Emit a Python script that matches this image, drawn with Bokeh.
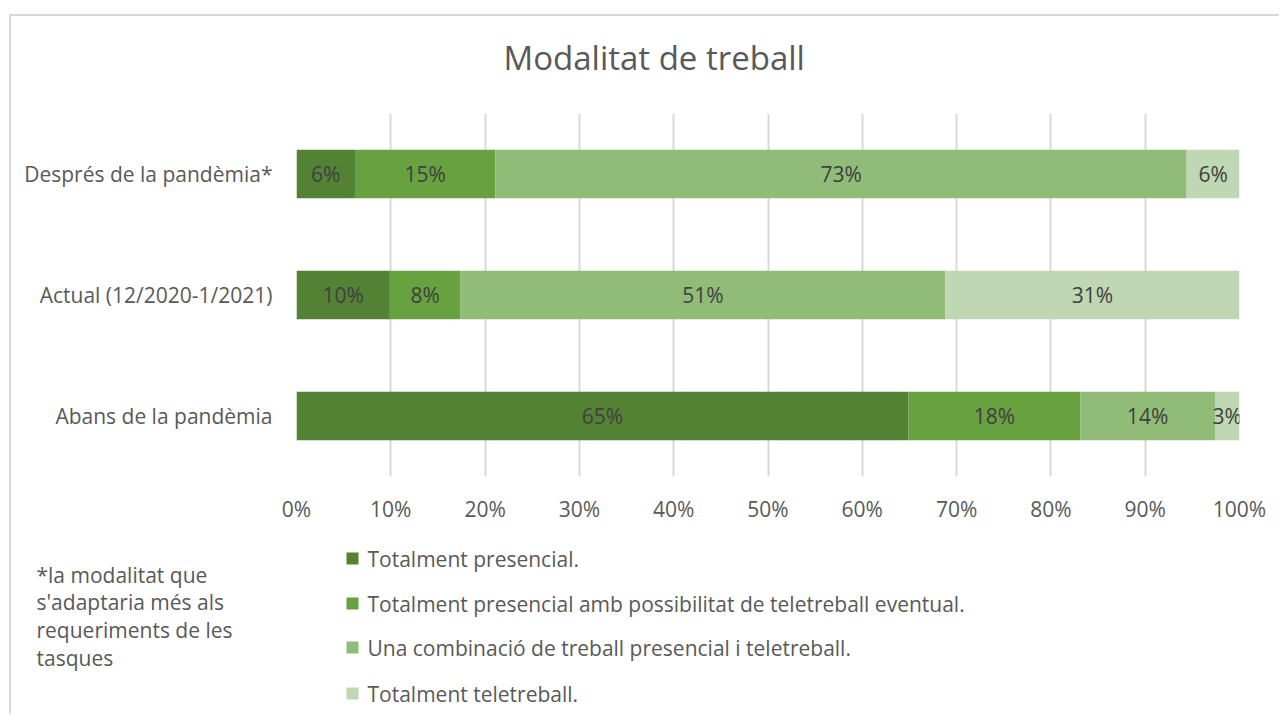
from bokeh.plotting import figure
from bokeh.models import Range1d, FactorRange, FixedTicker, ColumnDataSource, LinearAxis
from bokeh.core.properties import value
from bokeh.embed import file_html
from bokeh.resources import INLINE

# ---------------- data ----------------
categories = ["Abans de la pandèmia", "Actual (12/2020-1/2021)", "Després de la pandèmia*"]
series_names = [
    "Totalment presencial.",
    "Totalment presencial amb possibilitat de teletreball eventual.",
    "Una combinació de treball presencial i teletreball.",
    "Totalment teletreball.",
]
presencial = [64.9, 9.9, 6.2]
presencial_eventual = [18.2, 7.5, 14.9]
combinacio = [14.3, 51.4, 73.3]
teletreball = [2.6, 31.2, 5.6]
tick_values = [0, 10, 20, 30, 40, 50, 60, 70, 80, 90, 100]
tick_labels = ["0%", "10%", "20%", "30%", "40%", "50%", "60%", "70%", "80%", "90%", "100%"]
title_text = "Modalitat de treball"
footnote_lines = ["*la modalitat que", "s'adaptaria més als", "requeriments de les", "tasques"]

# ---------------- style ----------------
colors = ["#548235", "#68A240", "#91BC78", "#BFD7B3"]
FONT = "Open Sans"
TXT = "#595959"
BORDER = "2px solid #D9D9D9"
W = 1270
H_TOP = 513
H_BOT = 187

series = [presencial, presencial_eventual, combinacio, teletreball]
keys = ["s0", "s1", "s2", "s3"]
data = {"cat": categories}
for k, vals in zip(keys, series):
    data[k] = vals
source = ColumnDataSource(data)

p = figure(width=W, height=H_TOP,
           y_range=FactorRange(factors=categories, range_padding=0),
           x_range=Range1d(0, 100),
           output_backend="svg", toolbar_location=None,
           min_border_left=285, min_border_right=42,
           min_border_top=97, min_border_bottom=53,
           outline_line_color=None,
           styles={"border-left": BORDER, "border-top": BORDER},
           margin=(14, 0, 0, 9))

renderers = p.hbar_stack(keys, y="cat", height=0.4, color=colors, source=source,
                         line_color=None)

# data labels
lx, ly, lt = [], [], []
for i, cat in enumerate(categories):
    left = 0.0
    for vals in series:
        v = vals[i]
        lx.append(left + v / 2.0)
        ly.append(cat)
        lt.append(f"{round(v)}%")
        left += v
p.text(x=lx, y=ly, text=lt, text_align="center", text_baseline="middle",
       text_font=value(FONT), text_font_size="21px", text_color="#404040")

# axes
p.xaxis.ticker = FixedTicker(ticks=tick_values)
p.xaxis.major_label_overrides = {v: l for v, l in zip(tick_values, tick_labels)}
for ax in (p.xaxis[0], p.yaxis[0]):
    ax.axis_line_color = None
    ax.major_tick_line_color = None
    ax.minor_tick_line_color = None
    ax.major_tick_out = 0
    ax.major_tick_in = 0
    ax.major_label_text_font = FONT
    ax.major_label_text_font_size = "21px"
    ax.major_label_text_color = TXT
p.xaxis.major_label_standoff = 18
p.yaxis.major_label_standoff = 24

# invisible spacer axis above the frame (keeps the title away from the bars)
spacer = LinearAxis(ticker=FixedTicker(ticks=[50]), axis_line_color=None,
                    major_tick_line_color="white", minor_tick_line_color=None,
                    major_tick_out=29, major_tick_in=0, major_label_standoff=0,
                    major_label_text_color=None)
p.add_layout(spacer, "above")

p.ygrid.grid_line_color = None
p.xgrid.grid_line_color = "#D9D9D9"
p.xgrid.grid_line_width = 2

# title
p.title.text = title_text
p.title.align = "left"
p.title.offset = 207
p.title.text_font = FONT
p.title.text_font_size = "33px"
p.title.text_font_style = "normal"
p.title.text_color = TXT
p.title.standoff = 10
p.background_fill_color = "white"
p.border_fill_color = "white"

# ---------------- legend + footnote panel (1 data unit = 1 pixel) ----------------
q = figure(width=W, height=H_BOT, x_range=Range1d(0, W), y_range=Range1d(H_BOT, 0),
           x_axis_type=None, y_axis_type=None, min_border=0,
           output_backend="svg", toolbar_location=None, outline_line_color=None,
           styles={"border-left": BORDER}, margin=(0, 0, 0, 9))
q.grid.visible = False

row_y = [31, 76, 120, 166]
q.rect(x=[341] * 4, y=row_y, width=12, height=12, fill_color=colors, line_color=None)
q.text(x=[356] * 4, y=row_y, text=series_names, text_align="left", text_baseline="middle",
       text_font=value(FONT), text_font_size="21px", text_color=TXT)

foot_y = [47, 74, 102, 130]
q.text(x=[25] * 4, y=foot_y, text=footnote_lines, text_align="left", text_baseline="middle",
       text_font=value(FONT), text_font_size="21px", text_color=TXT)

open("out.html", "w").write(file_html([p, q], INLINE))
